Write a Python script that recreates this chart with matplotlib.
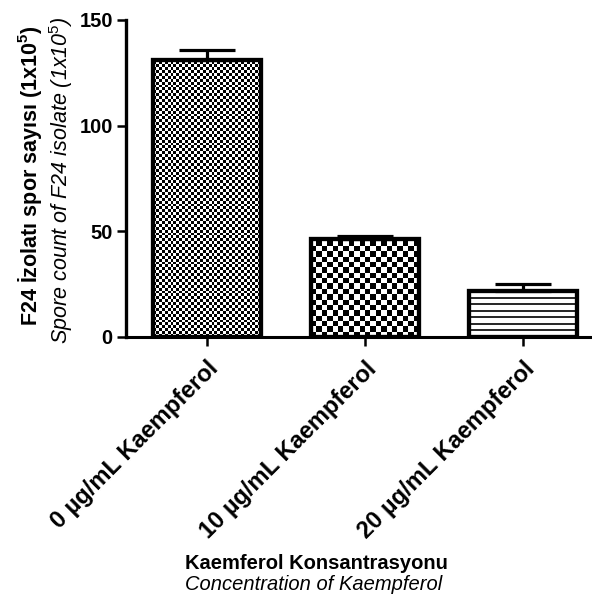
import numpy as np
import matplotlib
matplotlib.use("Agg")
import matplotlib.pyplot as plt

plt.rcParams["font.family"] = ["Liberation Sans", "DejaVu Sans"]
plt.rcParams["mathtext.fontset"] = "custom"
plt.rcParams["mathtext.rm"] = "Liberation Sans"
plt.rcParams["mathtext.bf"] = "Liberation Sans:bold"
plt.rcParams["mathtext.it"] = "Liberation Sans:italic"

# Spore counts (x10^5) and upper error
categories = ["0 \u00b5g/mL Kaempferol", "10 \u00b5g/mL Kaempferol", "20 \u00b5g/mL Kaempferol"]
spore_counts = [131.0, 46.3, 21.8]
spore_err = [5.0, 1.5, 3.1]
y_ticks = [0, 50, 100, 150]

W, H, DPI = 592, 605, 100
fig = plt.figure(figsize=(W / DPI, H / DPI), dpi=DPI)
ax = fig.add_axes([126 / W, (H - 337) / H, (W - 126) / W, 317 / H])

x = np.arange(len(categories))
xlim = (-0.513, 2.437)
ylim = (0, 150)

bars = ax.bar(x, spore_counts, width=0.684, facecolor="none",
              edgecolor="black", linewidth=3.1, zorder=3)

ax.errorbar(x, spore_counts, yerr=[np.zeros(len(x)), spore_err], fmt="none",
            ecolor="black", elinewidth=2.3, capsize=20.5, capthick=2.3, zorder=4)

# pixel -> data conversion factors
ax_w_px = W - 126
ax_h_px = 317
dx = (xlim[1] - xlim[0]) / ax_w_px
dy = (ylim[1] - ylim[0]) / ax_h_px


def checker_fill(patch, cell_px):
    x0, y0 = patch.get_x(), patch.get_y()
    w, h = patch.get_width(), patch.get_height()
    ncols = int(np.ceil(w / dx / cell_px)) + 1
    nrows = int(np.ceil(h / dy / cell_px)) + 1
    ii, jj = np.indices((nrows, ncols))
    arr = ((ii + jj) % 2).astype(float)
    im = ax.imshow(arr, cmap="gray", vmin=0, vmax=1, origin="lower",
                   extent=[x0, x0 + ncols * cell_px * dx, y0, y0 + nrows * cell_px * dy],
                   interpolation="nearest", aspect="auto", zorder=2)
    im.set_clip_path(patch)


def line_fill(patch, spacing_px):
    x0, y0 = patch.get_x(), patch.get_y()
    w, h = patch.get_width(), patch.get_height()
    n = max(int(round(h / dy / spacing_px)), 1)
    for k in range(1, n):
        yy = y0 + h * k / n
        ln, = ax.plot([x0, x0 + w], [yy, yy], color="black", lw=1.2, zorder=2)
        ln.set_clip_path(patch)


checker_fill(bars[0], 2.9)
checker_fill(bars[1], 5.35)
line_fill(bars[2], 6.6)

ax.set_xlim(*xlim)
ax.set_ylim(*ylim)

for s in ("top", "right"):
    ax.spines[s].set_visible(False)
ax.spines["left"].set_linewidth(2.4)
ax.spines["bottom"].set_linewidth(2.2)

ax.set_yticks(y_ticks)
ax.set_yticklabels([str(t) for t in y_ticks], fontsize=14.5, fontweight="bold")
ax.tick_params(axis="y", length=6.5, width=1.8, pad=3)
ax.set_xticks(x)
ax.set_xticklabels(categories, rotation=45, ha="right", va="top",
                   rotation_mode="anchor", fontsize=17, fontweight="bold")
ax.tick_params(axis="x", length=6.5, width=1.8, pad=8)

fig.text(30 / W, 1 - 176 / H, r"F24 İzolatı spor sayısı (1x10$^{\mathbf{5}}$)",
         rotation=90, ha="center", va="center", fontsize=15.5, fontweight="bold")
fig.text(61 / W, 1 - 180 / H, r"Spore count of F24 isolate (1x10$^{\mathit{5}}$)",
         rotation=90, ha="center", va="center", fontsize=15.5, style="italic")

fig.text(316 / W, 1 - 569 / H, "Kaemferol Konsantrasyonu",
         ha="center", va="baseline", fontsize=14.5, fontweight="bold")
fig.text(314 / W, 1 - 590 / H, "Concentration of Kaempferol",
         ha="center", va="baseline", fontsize=14.5, style="italic")

fig.savefig("out.png", dpi=DPI, facecolor="white")
